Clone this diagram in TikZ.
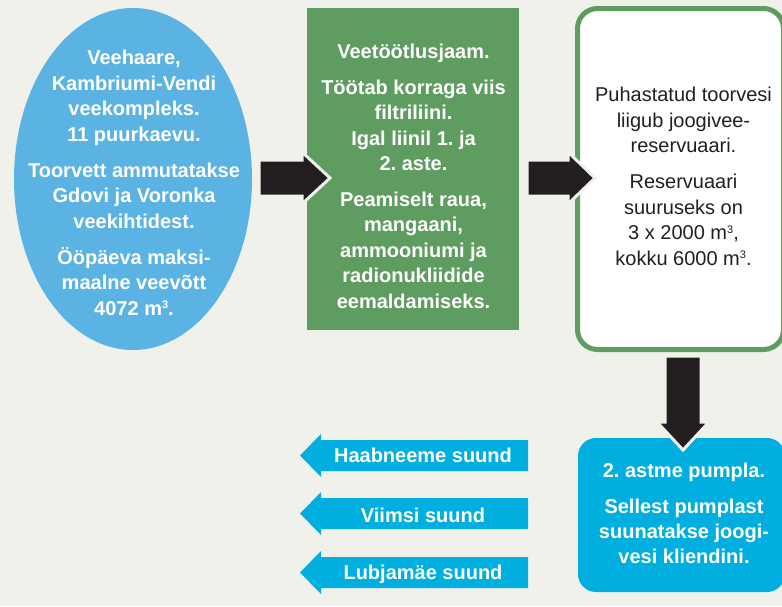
\documentclass[tikz,border=0pt]{standalone}
\usepackage{fontspec}
\setmainfont{Liberation Sans}
\usetikzlibrary{shapes.geometric}
\definecolor{bg}{HTML}{F1F1EC}
\definecolor{ellblue}{HTML}{5BB3E4}
\definecolor{grn}{HTML}{5E9C60}
\definecolor{cyanbox}{HTML}{00AEDF}
\definecolor{arrowblack}{HTML}{231F20}
\definecolor{darktext}{HTML}{231F20}
\newcommand{\cubedsup}{\raisebox{0.33em}{\fontsize{11}{11}\selectfont 3}}
\frenchspacing
\begin{document}
\begin{tikzpicture}[x=1pt,y=-1pt,
  boldtxt/.style={font=\fontsize{20}{25.5}\selectfont\bfseries\frenchspacing, text=white, align=center, inner sep=0pt},
  plaintxt/.style={font=\fontsize{20}{25.5}\selectfont\frenchspacing, text=darktext, align=center, inner sep=0pt},
  blockarrow/.style={fill=arrowblack, draw=bg, line width=3pt, line join=miter},
  dirarrow/.style={fill=cyanbox}]
\useasboundingbox (0,0) rectangle (782,606);
\clip (0,0) rectangle (782,606);
\fill[bg] (0,0) rectangle (782,606);

% shapes
\node[ellipse, fill=ellblue, minimum width=238pt, minimum height=342pt, inner sep=0pt] (src) at (133,179) {};
\node[rectangle, fill=grn, minimum width=212pt, minimum height=322pt, inner sep=0pt] (plant) at (413,169) {};
\node[rectangle, draw=grn, line width=5pt, fill=white, rounded corners=20pt, minimum width=206pt, minimum height=341pt, inner sep=0pt] (res) at (680.5,179) {};
\node[rectangle, fill=cyanbox, rounded corners=18pt, minimum width=207pt, minimum height=154pt, inner sep=0pt] (pump) at (681.5,515) {};

% block arrows
\filldraw[blockarrow] (259,160) -- (302,160) -- (302,152) -- (330,178) -- (302,204) -- (302,196) -- (259,196) -- cycle;
\filldraw[blockarrow] (527,160) -- (568,160) -- (568,152) -- (595,178) -- (568,204) -- (568,196) -- (527,196) -- cycle;
\filldraw[blockarrow] (665,356) -- (665,422) -- (657,422) -- (683,450) -- (709,422) -- (701,422) -- (701,356) -- cycle;

% direction arrows
\fill[dirarrow] (528,440) -- (321,440) -- (321,434) -- (300,455.5) -- (321,477) -- (321,471) -- (528,471) -- cycle;
\fill[dirarrow] (528,498) -- (321,498) -- (321,492) -- (300,513.5) -- (321,535) -- (321,529) -- (528,529) -- cycle;
\fill[dirarrow] (528,557) -- (321,557) -- (321,551) -- (300,572.5) -- (321,594) -- (321,588) -- (528,588) -- cycle;

% texts
\node[boldtxt] (srctxt) at (134,182.9) {Veehaare,\\Kambriumi-Vendi\\veekompleks.\\11 puurkaevu.\\[10.5pt]Toorvett ammutatakse\\Gdovi ja Voronka\\veekihtidest.\\[10.5pt]Ööpäeva maksi-\\maalne veevõtt\\4072 m\cubedsup.};
\node[boldtxt] (planttxt) at (413.5,176.3) {Veetöötlusjaam.\\[10pt]Töötab korraga viis\\filtriliini.\\Igal liinil 1. ja\\2. aste.\\[10pt]Peamiselt raua,\\mangaani,\\ammooniumi ja\\radionukliidide\\eemaldamiseks.};
\node[plaintxt] (restxt) at (683.5,176.5) {Puhastatud toorvesi\\liigub joogivee-\\reservuaari.\\[10.5pt]Reservuaari\\suuruseks on\\3 x 2000 m\cubedsup,\\kokku 6000 m\cubedsup.};
\node[boldtxt, font=\fontsize{20}{25}\selectfont\bfseries\frenchspacing] (pumptxt) at (684,513) {2. astme pumpla.\\[11pt]Sellest pumplast\\suunatakse joogi-\\vesi kliendini.};

\node[boldtxt, anchor=base] (haab) at (423,462) {Haabneeme suund};
\node[boldtxt, anchor=base] (viimsi) at (423,522) {Viimsi suund};
\node[boldtxt, anchor=base] (lubja) at (423,579) {Lubjamäe suund};
\end{tikzpicture}
\end{document}
